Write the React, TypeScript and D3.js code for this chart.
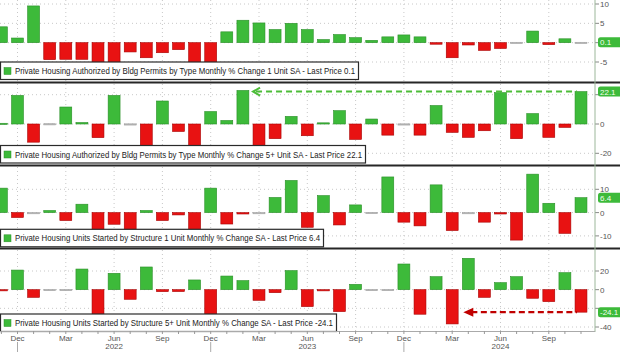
import React from 'react';
import * as d3 from 'd3';

const months = [
  '2021-11','2021-12','2022-01','2022-02','2022-03','2022-04','2022-05','2022-06','2022-07','2022-08','2022-09','2022-10','2022-11','2022-12',
  '2023-01','2023-02','2023-03','2023-04','2023-05','2023-06','2023-07','2023-08','2023-09','2023-10','2023-11','2023-12',
  '2024-01','2024-02','2024-03','2024-04','2024-05','2024-06','2024-07','2024-08','2024-09','2024-10','2024-11'
];

const permits1Unit = [4.1, 1.2, 9.5, -4.4, -4.3, -4.3, -5.6, -5.8, -2.4, -3.9, -2.6, -1.8, -6.0, -6.3, 2.8, 5.8, 5.1, 3.4, 5.0, 3.4, 0.8, 2.1, 1.3, 0.6, 1.5, 2.0, 1.5, -0.4, -3.9, -0.6, -2.0, -1.5, 0.1, 3.0, -0.5, 1.0, 0.1];
const permits5Unit = [0.5, 19.5, -12.4, 0.2, 11.6, 1.0, -9.3, 19.5, 0.1, -16, 15.7, -5.1, -16, 8.5, 2.4, 22.9, -16, -10, 5.2, -8, 0.8, 9.1, -10.5, 3.4, -7.6, 0.1, -7.6, 12.6, -5.7, -9.1, -4.6, 21.4, -10, 7.1, -9.1, -2.3, 22.1];
const starts1Unit = [10.5, -2.1, -0.3, 0.9, -3.4, 3.6, -9, -5.0, -9, 0.9, -3.4, -1.0, -8, 10.5, -4.9, -0.6, -0.3, 6.5, 13.8, -6.3, 7.3, -5.3, 3.3, 0.1, 15.3, -4.1, -5.7, 11.9, -7.7, -0.1, -4.1, -0.6, -11.8, 16.5, 4.0, -8.9, 6.4];
const starts5Unit = [-0.8, 21, -8.2, 0.2, 0.2, 22.1, -30, 17.5, -10.3, 24.3, -2.1, -2, 10.4, -30, 14.6, 9.7, -11.4, -3.2, 20.4, -18.1, -0.5, -23.5, 5.7, 0.2, 0.2, 27.5, -26.3, 13.9, -36.7, 33.6, -8.2, 7.5, 13.9, -9.2, -12.8, 18.2, -24.1];

const legendLabels = [
  'Private Housing Authorized by Bldg Permits by Type Monthly % Change 1 Unit SA - Last Price 0.1',
  'Private Housing Authorized by Bldg Permits by Type Monthly % Change 5+ Unit SA - Last Price 22.1',
  'Private Housing Units Started by Structure 1 Unit Monthly % Change SA - Last Price 6.4',
  'Private Housing Units Started by Structure 5+ Unit Monthly % Change SA - Last Price -24.1',
];
const lastPriceLabels = ['0.1', '22.1', '6.4', '-24.1'];
const panelTicks = [[10, 5, 0, -5], [20, 0, -20], [10, 0, -10], [20, 0, -20, -40]];

const W = 620;
const AXIS_X = 595;
const GREEN = '#3dba3a';
const GREEN_DARK = '#2a8f28';
const RED = '#e81212';
const RED_DARK = '#a80000';
const FONT = '"Liberation Sans", Arial, sans-serif';

const panels = [
  { series: permits1Unit, domain: [-5, 10], range: [62, 4], top: 0, bottom: 81, legendY: 62, legendW: 358, textW: 340 },
  { series: permits5Unit, domain: [-20, 20], range: [153.3, 94.7], top: 84, bottom: 164, legendY: 145.5, legendW: 365, textW: 347 },
  { series: starts1Unit, domain: [-10, 10], range: [235.9, 189.3], top: 167, bottom: 247, legendY: 229.3, legendW: 323, textW: 305 },
  { series: starts5Unit, domain: [-40, 20], range: [327, 271], top: 250, bottom: 331, legendY: 314, legendW: 336, textW: 318 },
];

const parse = d3.timeParse('%Y-%m');
const fmtMonth = d3.timeFormat('%b');

export default function App() {
  const x = d3.scaleBand<string>().domain(months).range([-6.65, 589.05]).paddingInner(0.26).paddingOuter(0.13);
  const cx = (m: string) => (x(m) as number) + x.bandwidth() / 2;
  const quarterMonths = months.filter((m) => [12, 3, 6, 9].includes(parse(m)!.getMonth() + 1));
  const juneMonths = months.filter((m) => parse(m)!.getMonth() === 5);
  const decMonths = months.filter((m) => parse(m)!.getMonth() === 11);

  return (
    <svg width={W} height={352} style={{ position: 'absolute', left: 0, top: 0, background: '#fff' }} fontFamily={FONT}>
      <defs>
        {panels.map((p, i) => (
          <clipPath id={`clip${i}`} key={i}>
            <rect x={0} y={p.top} width={AXIS_X} height={p.bottom - p.top} />
          </clipPath>
        ))}
      </defs>
      {panels.map((p, i) => {
        const y = d3.scaleLinear().domain(p.domain).range(p.range);
        const y0 = y(0);
        const lastV = p.series[p.series.length - 1];
        const yTag = y(lastV);
        return (
          <g key={i}>
            {quarterMonths.map((m) => (
              <line key={m} x1={cx(m)} x2={cx(m)} y1={p.top} y2={p.bottom} stroke="#c8c8c8" strokeWidth={1} strokeDasharray="1,3" />
            ))}
            {panelTicks[i].map((t) => (
              <line key={t} x1={0} x2={AXIS_X} y1={y(t)} y2={y(t)} stroke="#c8c8c8" strokeWidth={1} strokeDasharray="1,3" />
            ))}
            <g clipPath={`url(#clip${i})`}>
              {p.series.map((v, j) => {
                const m = months[j];
                const near = Math.abs(v) < 0.35;
                const fill = near ? '#b9b9b9' : v >= 0 ? GREEN : RED;
                const stroke = near ? '#a0a0a0' : v >= 0 ? GREEN_DARK : RED_DARK;
                const yTop = Math.min(y(v), y0);
                const h = Math.max(Math.abs(y(v) - y0), 1.2);
                return <rect key={m} x={x(m)} y={yTop} width={x.bandwidth()} height={h} fill={fill} stroke={stroke} strokeWidth={0.6} />;
              })}
            </g>
            {i === 1 && (() => {
              const ya = y(22.1);
              const xs = x('2023-03') as number;
              const xe = (x('2024-11') as number) + 2;
              return (
                <g stroke="#4cbc38" strokeWidth={2} fill="none">
                  <line x1={xs + 3} x2={xe} y1={ya} y2={ya} strokeDasharray="6,4" />
                  <polyline points={`${xs + 7},${ya - 4} ${xs},${ya} ${xs + 7},${ya + 4}`} />
                </g>
              );
            })()}
            {i === 3 && (() => {
              const ya = y(-24.1);
              const xs = (x('2024-04') as number) + 1;
              const xe = (x('2024-11') as number) + 2;
              return (
                <g>
                  <line x1={xs + 8} x2={xe} y1={ya} y2={ya} stroke="#c00000" strokeWidth={2.2} strokeDasharray="6,3.5" />
                  <polygon points={`${xs},${ya} ${xs + 10},${ya - 4.5} ${xs + 10},${ya + 4.5}`} fill="#c00000" />
                </g>
              );
            })()}
            <rect x={0.5} y={p.legendY} width={p.legendW} height={17.5} fill="#fff" stroke="#2a2a2a" strokeWidth={1.2} />
            <rect x={4} y={p.legendY + 5.5} width={7} height={7} fill={GREEN} stroke={GREEN_DARK} strokeWidth={0.5} />
            <text x={15} y={p.legendY + 12} fontSize={8.6} fill="#222" textLength={p.textW} lengthAdjust="spacingAndGlyphs">
              {legendLabels[i]}
            </text>
            {panelTicks[i].map((t) => (
              <line key={`tm${t}`} x1={AXIS_X} x2={AXIS_X + 4} y1={y(t)} y2={y(t)} stroke="#888" />
            ))}
            {panelTicks[i]
              .filter((t) => Math.abs(y(t) - yTag) > 8)
              .map((t) => (
                <text key={`t${t}`} x={AXIS_X + 5} y={y(t) + 3} fontSize={8} fill="#555">{t}</text>
              ))}
            <rect x={AXIS_X + 3} y={yTag - 5} width={30} height={10} rx={2.5} fill={GREEN} />
            <text x={AXIS_X + 5} y={yTag + 3} fontSize={8} fill="#f4fff0">{lastPriceLabels[i]}</text>
          </g>
        );
      })}
      {[82.5, 165.5, 248.5].map((yy) => (
        <line key={yy} x1={0} x2={W} y1={yy} y2={yy} stroke="#262626" strokeWidth={2} />
      ))}
      <line x1={AXIS_X} x2={AXIS_X} y1={0} y2={332} stroke="#9cb79a" strokeWidth={1} />
      <line x1={0} x2={AXIS_X} y1={331.5} y2={331.5} stroke="#aaa" strokeWidth={1} />
      {months.map((m) => (
        <line key={`xt${m}`} x1={cx(m)} x2={cx(m)} y1={331} y2={334} stroke="#999" />
      ))}
      {decMonths.map((m) => (
        <line key={`yl${m}`} x1={cx(m)} x2={cx(m)} y1={342} y2={352} stroke="#aaa" />
      ))}
      {quarterMonths.map((m) => (
        <text key={`ql${m}`} x={cx(m)} y={341} fontSize={8} fill="#555" textAnchor="middle">
          {fmtMonth(parse(m)!)}
        </text>
      ))}
      {juneMonths.map((m) => (
        <text key={`yr${m}`} x={cx(m)} y={349} fontSize={8} fill="#555" textAnchor="middle">
          {m.slice(0, 4)}
        </text>
      ))}
    </svg>
  );
}
